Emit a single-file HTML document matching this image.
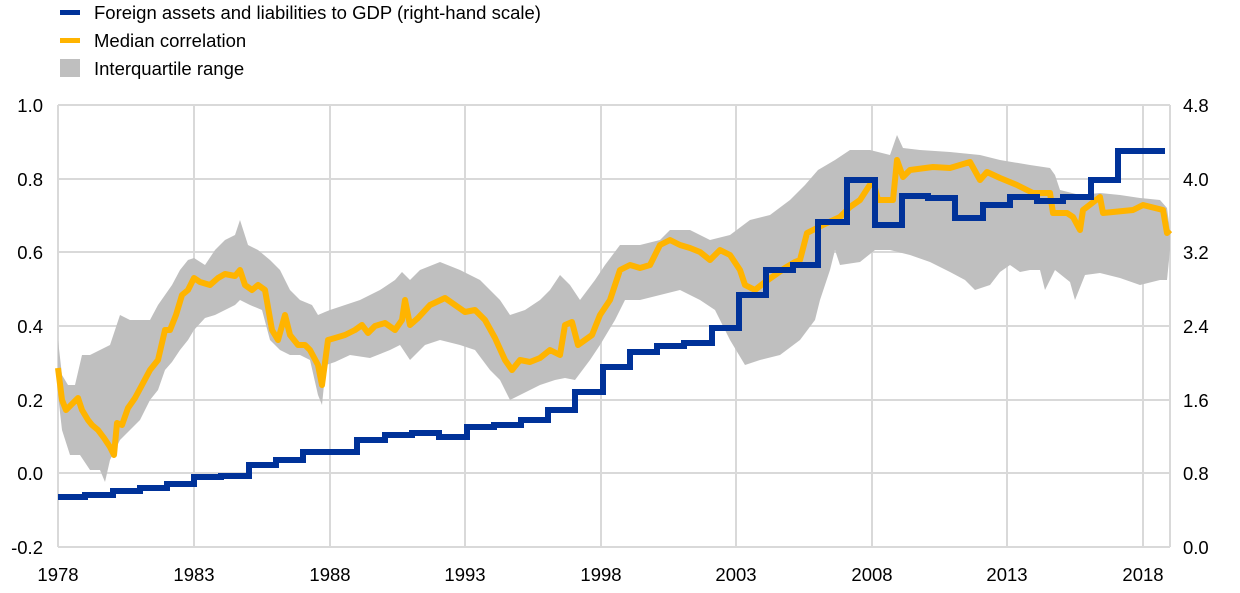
<!DOCTYPE html>
<html><head><meta charset="utf-8"><style>
body{margin:0;background:#fff;}
svg{display:block;font-family:"Liberation Sans",Arial,sans-serif;font-size:18.5px;fill:#000}
</style></head><body>
<svg width="1240" height="593" viewBox="0 0 1240 593">
<g stroke="#d9d9d9" stroke-width="2" fill="none">
<line x1="58" y1="105" x2="1170" y2="105"/><line x1="58" y1="179" x2="1170" y2="179"/>
<line x1="58" y1="252" x2="1170" y2="252"/><line x1="58" y1="326" x2="1170" y2="326"/>
<line x1="58" y1="400" x2="1170" y2="400"/><line x1="58" y1="473" x2="1170" y2="473"/>
<line x1="58" y1="547" x2="1170" y2="547"/>
<line x1="58" y1="105" x2="58" y2="547"/><line x1="194" y1="105" x2="194" y2="547"/>
<line x1="330" y1="105" x2="330" y2="547"/><line x1="465" y1="105" x2="465" y2="547"/>
<line x1="601" y1="105" x2="601" y2="547"/><line x1="736" y1="105" x2="736" y2="547"/>
<line x1="872" y1="105" x2="872" y2="547"/><line x1="1007" y1="105" x2="1007" y2="547"/>
<line x1="1143" y1="105" x2="1143" y2="547"/><line x1="1170" y1="105" x2="1170" y2="547"/>
</g>
<polygon fill="#bfbfbf" points="58,340 62,375 68,385 75,385 82,355 90,355 100,350 110,345 120,315 130,320 140,320 150,320 158,305 165,295 172,285 180,270 188,260 194,258 205,265 215,250 225,240 235,235 240,220 248,245 258,250 270,260 280,270 290,290 300,300 312,305 318,315 325,312 330,310 345,305 360,300 380,290 395,280 402,272 410,280 420,270 440,262 460,270 480,280 500,300 510,315 525,310 540,300 550,290 560,275 570,285 580,300 595,280 605,265 620,245 640,245 660,240 670,230 690,230 710,240 730,235 750,220 770,215 790,200 805,185 818,170 835,160 850,150 870,150 890,155 897,135 903,148 920,150 950,152 980,155 1000,160 1030,165 1050,168 1055,175 1060,190 1080,195 1100,193 1120,195 1140,198 1160,200 1167,208 1170,230 1170,250 1167,280 1160,280 1140,285 1120,278 1100,273 1085,275 1075,300 1070,282 1055,270 1045,290 1040,270 1030,270 1020,272 1010,265 1000,272 990,285 975,290 965,280 950,272 930,262 910,255 890,250 875,250 860,262 840,265 835,250 830,270 820,300 815,320 800,340 780,355 760,360 745,365 730,340 715,310 700,300 680,290 660,295 640,300 625,300 615,320 600,345 590,360 575,380 565,378 555,380 540,385 520,395 510,400 500,380 490,370 475,350 460,345 440,340 425,345 410,360 400,345 390,350 370,358 350,355 335,362 326,365 322,405 318,395 310,360 300,355 290,355 280,350 270,340 262,310 250,305 240,300 235,305 225,310 215,315 205,318 194,330 188,340 180,350 172,362 165,370 158,390 150,400 140,420 130,430 120,440 110,460 105,482 100,470 90,470 80,455 70,455 62,430 58,395"/>
<polyline fill="none" stroke="#ffb400" stroke-width="6" stroke-linejoin="round" points="58,368 62,400 66,410 72,404 78,398 82,410 88,420 92,425 98,430 104,438 110,447 114,455 117,423 122,425 128,408 135,398 142,385 150,370 158,360 165,330 170,330 176,315 182,295 188,290 194,278 200,282 210,285 218,278 225,274 235,276 240,270 245,285 252,290 258,285 265,290 272,330 278,340 285,315 290,335 298,345 305,345 310,350 318,365 322,385 328,340 335,338 345,335 355,330 362,325 368,333 375,326 385,323 395,330 402,320 405,300 410,325 418,318 430,305 445,298 455,305 465,312 475,310 485,320 495,338 505,360 512,370 520,360 530,362 540,358 550,350 560,355 565,325 572,322 578,345 585,340 592,335 600,315 610,300 620,270 630,265 640,268 650,265 660,245 670,240 680,245 690,248 700,252 710,260 720,250 730,255 740,270 745,285 755,290 765,282 775,275 785,268 795,262 800,260 807,233 827,223 840,217 850,207 860,200 873,180 878,200 893,200 897,160 903,177 910,170 933,167 950,168 970,162 980,180 987,172 1000,178 1017,185 1033,193 1050,193 1053,213 1067,213 1073,217 1080,230 1083,210 1100,197 1103,213 1133,210 1143,205 1163,210 1167,233 1170,230"/>
<polyline fill="none" stroke="#003299" stroke-width="6" points="58,497 85,497 85,495 113,495 113,491 140,491 140,488 167,488 167,484 194,484 194,477 221,477 221,476 249,476 249,465 276,465 276,460 303,460 303,452 357,452 357,440 385,440 385,435 412,435 412,433 439,433 439,437 467,437 467,427 494,427 494,425 521,425 521,420 548,420 548,410 575,410 575,392 603,392 603,367 630,367 630,352 657,352 657,346 684,346 684,343 712,343 712,328 739,328 739,295 766,295 766,270 793,270 793,265 818,265 818,222 847,222 847,180 875,180 875,225 902,225 902,196 928,196 928,198 955,198 955,218 983,218 983,205 1010,205 1010,197 1037,197 1037,201 1063,201 1063,197 1091,197 1091,180 1118,180 1118,151 1165,151"/>
<g text-anchor="end">
<text x="43" y="112">1.0</text><text x="43" y="186">0.8</text><text x="43" y="259">0.6</text>
<text x="43" y="333">0.4</text><text x="43" y="407">0.2</text><text x="43" y="480">0.0</text><text x="43" y="554">-0.2</text>
</g>
<g>
<text x="1183" y="112">4.8</text><text x="1183" y="186">4.0</text><text x="1183" y="259">3.2</text>
<text x="1183" y="333">2.4</text><text x="1183" y="407">1.6</text><text x="1183" y="480">0.8</text><text x="1183" y="554">0.0</text>
</g>
<g text-anchor="middle">
<text x="58" y="581">1978</text><text x="194" y="581">1983</text><text x="330" y="581">1988</text>
<text x="465" y="581">1993</text><text x="601" y="581">1998</text><text x="736" y="581">2003</text>
<text x="872" y="581">2008</text><text x="1007" y="581">2013</text><text x="1143" y="581">2018</text>
</g>
<rect x="60" y="10" width="20" height="5" fill="#003299"/>
<rect x="60" y="38" width="20" height="5" fill="#ffb400"/>
<rect x="60" y="59" width="20" height="18" fill="#bfbfbf"/>
<text x="94" y="19">Foreign assets and liabilities to GDP (right-hand scale)</text>
<text x="94" y="47">Median correlation</text>
<text x="94" y="75">Interquartile range</text>
</svg>
</body></html>
